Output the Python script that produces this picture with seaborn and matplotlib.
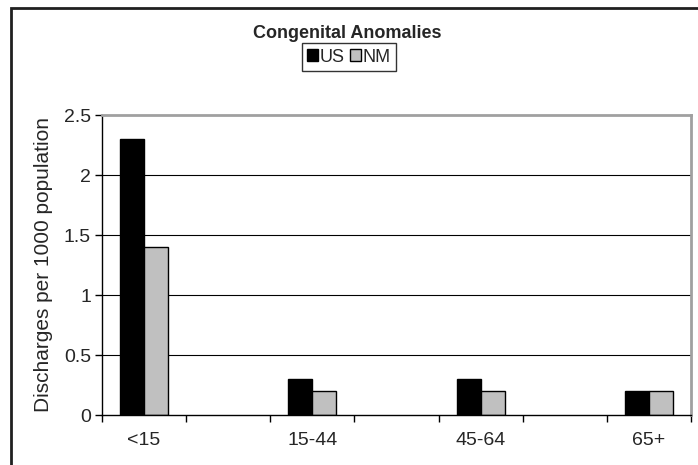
import numpy as np
import pandas as pd
import matplotlib
matplotlib.use("Agg")
import matplotlib.pyplot as plt
import seaborn as sns
from matplotlib.patches import Rectangle

# data
age_groups = ["<15", "15-44", "45-64", "65+"]
us_rates = [2.3, 0.3, 0.3, 0.2]
nm_rates = [1.4, 0.2, 0.2, 0.2]
series_names = ["US", "NM"]
# the original has blank categories between the labelled ones
slots = ["<15", "gap1", "15-44", "gap2", "45-64", "gap3", "65+"]

df = pd.DataFrame({
    "age": age_groups * 2,
    "rate": us_rates + nm_rates,
    "series": [series_names[0]] * 4 + [series_names[1]] * 4,
})

sns.set_style("white")
plt.rcParams["font.family"] = ["Liberation Sans", "DejaVu Sans"]

fig = plt.figure(figsize=(6.98, 4.65), dpi=100)
ax = fig.add_axes([102 / 698, 50 / 465, 589 / 698, 300 / 465])

sns.barplot(data=df, x="age", y="rate", hue="series", order=slots,
            palette=["#000000", "#C0C0C0"], width=0.57, edgecolor="black",
            linewidth=1, ax=ax, legend=True, saturation=1)

ax.set_ylim(0, 2.5)
ax.set_xlim(-0.5, len(slots) - 0.5)
ax.set_yticks(np.arange(0, 2.51, 0.5))
ax.set_yticklabels(["0", "0.5", "1", "1.5", "2", "2.5"], fontsize=14)
for y in [0.5, 1.0, 1.5, 2.0]:
    ax.axhline(y, color="black", lw=0.8, zorder=0)

ax.set_xticks(np.arange(-0.5, len(slots), 1.0))
ax.set_xticklabels([])
ax.set_xticks([slots.index(a) for a in age_groups], minor=True)
ax.set_xticklabels(age_groups, minor=True, fontsize=14)
ax.tick_params(axis="x", which="major", direction="out", length=5, width=1, color="black", bottom=True)
ax.tick_params(axis="x", which="minor", length=0, pad=12)
ax.tick_params(axis="y", direction="out", length=5, width=1, color="black", left=True, pad=3)

ax.set_xlabel("")
ax.set_ylabel("Discharges per 1000 population", fontsize=15, labelpad=8)

for side in ["left", "bottom"]:
    ax.spines[side].set_color("black")
    ax.spines[side].set_linewidth(1)
for side in ["top", "right"]:
    ax.spines[side].set_visible(True)
    ax.spines[side].set_color("#A0A0A0")
    ax.spines[side].set_linewidth(2)

handles, labels = ax.get_legend_handles_labels()
ax.legend(handles, labels, loc="center", bbox_to_anchor=(349 / 698, 1 - 57 / 465),
          bbox_transform=fig.transFigure, ncol=2, fontsize=13, frameon=True,
          fancybox=False, edgecolor="black", handlelength=0.6, handleheight=0.6,
          handletextpad=0.1, columnspacing=0.3, borderpad=0.3, borderaxespad=0)
ax.get_legend().get_frame().set_linewidth(1)

fig.text(347 / 698, 1 - 34 / 465, "Congenital Anomalies", ha="center", va="center",
         fontsize=13, fontweight="bold")

# outer chart border (only left and top fall inside the image)
fig.patches.append(Rectangle((11 / 698, -0.1), 1.2, 1 - 8 / 465 + 0.1,
                             transform=fig.transFigure, fill=False,
                             edgecolor="#202020", lw=2))

fig.savefig("out.png", dpi=100)
